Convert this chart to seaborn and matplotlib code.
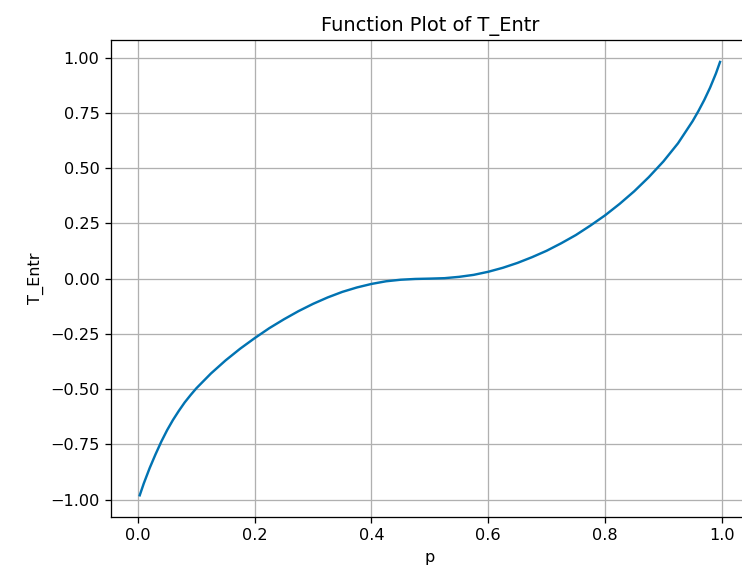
import matplotlib
matplotlib.use("Agg")
import matplotlib.pyplot as plt
import seaborn as sns
import pandas as pd

# Values
p_values = [0.003, 0.01, 0.02, 0.03, 0.04, 0.05, 0.06, 0.07, 0.08, 0.09,
            0.1, 0.125, 0.15, 0.175, 0.2, 0.225, 0.25, 0.275, 0.3, 0.325,
            0.35, 0.375, 0.4, 0.425, 0.45, 0.475, 0.5, 0.525, 0.55, 0.575,
            0.6, 0.625, 0.65, 0.675, 0.7, 0.725, 0.75, 0.775, 0.8, 0.825,
            0.85, 0.875, 0.9, 0.925, 0.95, 0.96, 0.97, 0.98, 0.99, 0.997]
t_entr = [-0.980, -0.926, -0.857, -0.795, -0.737, -0.685, -0.639, -0.598, -0.560, -0.527,
          -0.496, -0.429, -0.370, -0.317, -0.269, -0.224, -0.184, -0.147, -0.114, -0.085,
          -0.060, -0.040, -0.024, -0.012, -0.005, -0.0015, 0.0, 0.002, 0.008, 0.017,
          0.031, 0.049, 0.071, 0.097, 0.126, 0.160, 0.197, 0.240, 0.286, 0.338,
          0.395, 0.459, 0.530, 0.612, 0.712, 0.758, 0.808, 0.864, 0.928, 0.980]

df = pd.DataFrame({"p": p_values, "T_Entr": t_entr})

fig = plt.figure(figsize=(742 / 116, 572 / 116), dpi=116)
ax = fig.add_axes([0.1492, 0.0962, 0.8603, 0.8334])

sns.lineplot(data=df, x="p", y="T_Entr", ax=ax, color="#0173b2", linewidth=1.5)

ax.set_title("Function Plot of T_Entr")
ax.set_xlabel("p")
ax.set_ylabel("T_Entr")
ax.grid(True)
ax.set_axisbelow(True)
ax.spines["right"].set_visible(False)
ax.set_xticks([0.0, 0.2, 0.4, 0.6, 0.8, 1.0])
ax.set_yticks([-1.0, -0.75, -0.5, -0.25, 0.0, 0.25, 0.5, 0.75, 1.0])

fig.savefig("out.png", dpi=116)
